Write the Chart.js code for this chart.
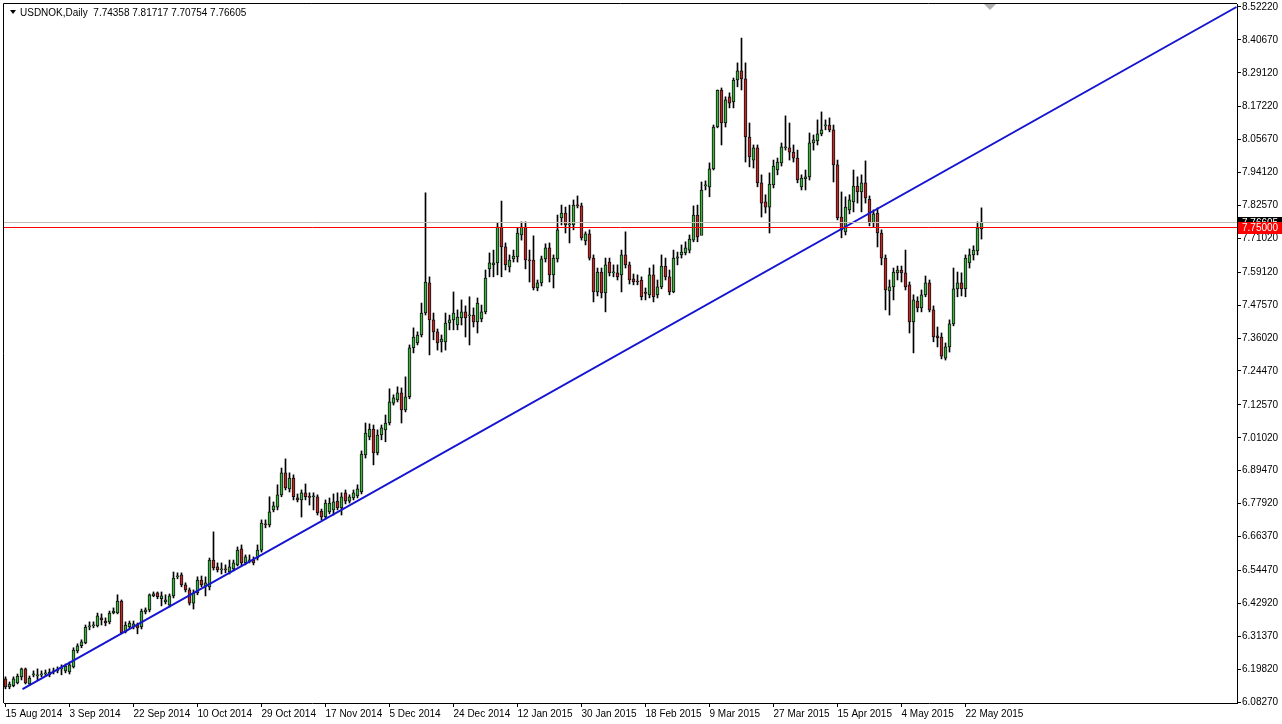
<!DOCTYPE html>
<html>
<head>
<meta charset="utf-8">
<title>USDNOK, Daily</title>
<script src="https://cdn.jsdelivr.net/npm/chart.js@4.4.1/dist/chart.umd.min.js"></script>
<style>
  html, body { margin: 0; padding: 0; background: #fff; }
  #wrap { width: 1282px; height: 724px; }
</style>
</head>
<body>
<div id="wrap"><canvas id="chart" width="1282" height="724"></canvas></div>
<script>
/* USDNOK daily candles, 15 Aug 2014 .. 27 May 2015 (one entry per bar) */

const symbolTitle = 'USDNOK,Daily';

const opens = [
  6.164,6.136,6.140,6.150,6.171,6.199,6.146,6.178,6.174,6.178,6.181,6.178,6.188,6.192,6.199,6.192,
  6.188,6.206,6.262,6.280,6.290,6.346,6.350,6.350,6.378,6.367,6.364,6.395,6.395,6.437,6.329,6.346,
  6.346,6.353,6.346,6.399,6.406,6.455,6.466,6.445,6.434,6.423,6.455,6.522,6.529,6.494,6.476,6.430,
  6.466,6.511,6.490,6.487,6.581,6.557,6.546,6.550,6.539,6.550,6.564,6.620,6.571,6.578,6.581,6.588,
  6.616,6.708,6.704,6.757,6.767,6.810,6.887,6.831,6.869,6.799,6.792,6.817,6.803,6.803,6.803,6.753,
  6.732,6.750,6.757,6.788,6.764,6.817,6.788,6.799,6.806,6.820,6.950,7.013,7.041,6.957,7.020,7.038,
  7.062,7.132,7.143,7.168,7.108,7.154,7.326,7.343,7.371,7.448,7.554,7.424,7.382,7.347,7.347,7.413,
  7.424,7.406,7.431,7.452,7.438,7.441,7.417,7.427,7.452,7.603,7.617,7.624,7.750,7.680,7.610,7.638,
  7.645,7.722,7.750,7.634,7.634,7.536,7.554,7.638,7.677,7.582,7.638,7.782,7.799,7.757,7.757,7.827,
  7.824,7.701,7.726,7.641,7.522,7.592,7.519,7.627,7.589,7.589,7.582,7.652,7.617,7.568,7.560,7.564,
  7.519,7.512,7.582,7.512,7.540,7.613,7.575,7.522,7.641,7.652,7.659,7.669,7.704,7.792,7.720,7.894,
  7.891,7.954,8.101,8.231,8.115,8.207,8.189,8.266,8.298,8.270,8.066,7.985,8.028,7.905,7.838,7.820,
  7.898,7.950,7.975,8.028,8.028,8.013,7.992,7.891,7.919,7.926,8.045,8.052,8.077,8.105,8.108,8.091,
  7.968,7.785,7.733,7.810,7.838,7.894,7.873,7.905,7.848,7.764,7.799,7.729,7.641,7.526,7.540,7.589,
  7.599,7.589,7.547,7.417,7.490,7.466,7.512,7.554,7.459,7.368,7.364,7.290,7.329,7.410,7.533,7.554,
  7.533,7.624,7.652,7.666,7.74358
];

const highs = [
  6.171,6.153,6.171,6.181,6.202,6.202,6.174,6.192,6.199,6.192,6.195,6.199,6.202,6.206,6.213,6.216,
  6.223,6.273,6.287,6.301,6.353,6.364,6.364,6.395,6.392,6.378,6.402,6.413,6.459,6.441,6.364,6.367,
  6.367,6.360,6.409,6.413,6.462,6.469,6.469,6.469,6.459,6.462,6.539,6.536,6.536,6.501,6.483,6.476,
  6.522,6.525,6.522,6.588,6.680,6.571,6.571,6.564,6.581,6.581,6.627,6.634,6.599,6.599,6.592,6.634,
  6.722,6.722,6.803,6.785,6.845,6.904,6.936,6.887,6.880,6.813,6.827,6.848,6.817,6.817,6.810,6.760,
  6.792,6.799,6.813,6.817,6.817,6.827,6.810,6.827,6.845,6.964,7.062,7.059,7.055,7.038,7.055,7.090,
  7.182,7.161,7.189,7.185,7.224,7.336,7.396,7.382,7.483,7.870,7.575,7.448,7.392,7.371,7.448,7.441,
  7.522,7.459,7.494,7.473,7.505,7.466,7.501,7.476,7.599,7.659,7.669,7.764,7.841,7.694,7.652,7.669,
  7.747,7.768,7.768,7.669,7.719,7.564,7.648,7.691,7.694,7.652,7.792,7.827,7.820,7.827,7.845,7.859,
  7.834,7.733,7.740,7.652,7.606,7.606,7.641,7.641,7.617,7.617,7.669,7.733,7.627,7.585,7.582,7.575,
  7.536,7.606,7.617,7.564,7.652,7.641,7.599,7.669,7.662,7.687,7.698,7.722,7.824,7.827,7.908,7.912,
  7.975,8.108,8.231,8.238,8.207,8.221,8.273,8.326,8.413,8.326,8.115,8.038,8.038,7.933,7.863,7.940,
  7.985,7.992,8.045,8.140,8.115,8.038,8.020,7.933,7.950,8.080,8.073,8.126,8.154,8.126,8.133,8.108,
  7.985,7.873,7.856,7.863,7.950,7.926,7.933,7.982,7.859,7.810,7.817,7.740,7.652,7.564,7.606,7.613,
  7.613,7.669,7.557,7.512,7.505,7.529,7.578,7.564,7.473,7.399,7.378,7.343,7.424,7.606,7.592,7.589,
  7.652,7.673,7.684,7.768,7.81717
];

const lows = [
  6.129,6.129,6.136,6.146,6.160,6.146,6.140,6.171,6.160,6.171,6.174,6.171,6.181,6.185,6.178,6.185,
  6.181,6.202,6.255,6.273,6.287,6.336,6.343,6.346,6.353,6.350,6.357,6.392,6.392,6.322,6.325,6.339,
  6.339,6.322,6.339,6.392,6.399,6.452,6.445,6.420,6.427,6.416,6.448,6.515,6.487,6.469,6.423,6.409,
  6.459,6.487,6.455,6.476,6.546,6.539,6.532,6.536,6.532,6.543,6.560,6.560,6.564,6.571,6.564,6.581,
  6.609,6.694,6.697,6.750,6.757,6.803,6.827,6.820,6.792,6.785,6.732,6.792,6.774,6.757,6.739,6.722,
  6.725,6.743,6.739,6.757,6.739,6.778,6.781,6.792,6.799,6.813,6.939,7.003,6.915,6.950,7.003,6.996,
  7.055,7.125,7.136,7.062,7.101,7.147,7.308,7.336,7.364,7.441,7.301,7.354,7.318,7.311,7.318,7.389,
  7.389,7.389,7.406,7.364,7.336,7.399,7.378,7.417,7.445,7.575,7.575,7.582,7.575,7.599,7.592,7.627,
  7.627,7.704,7.603,7.557,7.529,7.526,7.543,7.627,7.557,7.536,7.627,7.757,7.729,7.694,7.740,7.817,
  7.704,7.687,7.634,7.487,7.508,7.501,7.452,7.578,7.575,7.564,7.522,7.606,7.550,7.547,7.547,7.494,
  7.494,7.501,7.487,7.501,7.533,7.564,7.512,7.519,7.617,7.641,7.652,7.659,7.698,7.698,7.740,7.880,
  7.856,7.950,8.098,8.038,8.101,8.168,8.168,8.242,8.231,7.978,7.961,7.957,7.891,7.785,7.799,7.729,
  7.887,7.933,7.964,8.020,7.985,7.978,7.905,7.880,7.880,7.915,8.020,8.038,8.070,8.091,8.084,7.908,
  7.775,7.712,7.722,7.796,7.803,7.834,7.803,7.834,7.754,7.750,7.680,7.617,7.459,7.441,7.494,7.564,
  7.557,7.529,7.378,7.308,7.452,7.452,7.505,7.452,7.347,7.329,7.287,7.283,7.311,7.403,7.505,7.508,
  7.505,7.606,7.634,7.652,7.70754
];

const closes = [
  6.136,6.146,6.164,6.174,6.199,6.150,6.167,6.181,6.178,6.181,6.185,6.188,6.192,6.195,6.202,6.209,
  6.213,6.265,6.280,6.294,6.346,6.350,6.353,6.385,6.371,6.360,6.395,6.402,6.437,6.325,6.353,6.360,
  6.357,6.343,6.402,6.406,6.459,6.462,6.452,6.455,6.441,6.455,6.518,6.525,6.494,6.476,6.430,6.466,
  6.511,6.494,6.501,6.581,6.553,6.546,6.550,6.546,6.557,6.571,6.616,6.571,6.592,6.581,6.571,6.616,
  6.711,6.704,6.750,6.771,6.810,6.887,6.834,6.869,6.803,6.792,6.817,6.803,6.801,6.806,6.746,6.732,
  6.781,6.781,6.785,6.764,6.803,6.788,6.803,6.817,6.831,6.953,7.027,7.041,6.957,7.020,7.045,7.062,
  7.136,7.150,7.168,7.108,7.154,7.326,7.364,7.371,7.448,7.557,7.424,7.382,7.343,7.357,7.413,7.424,
  7.448,7.434,7.452,7.431,7.441,7.417,7.483,7.452,7.571,7.624,7.624,7.750,7.680,7.617,7.634,7.648,
  7.729,7.750,7.634,7.631,7.536,7.554,7.638,7.677,7.582,7.641,7.740,7.799,7.757,7.761,7.827,7.824,
  7.712,7.726,7.641,7.522,7.592,7.519,7.617,7.589,7.592,7.575,7.652,7.617,7.564,7.557,7.557,7.505,
  7.517,7.582,7.505,7.540,7.613,7.575,7.522,7.641,7.645,7.662,7.677,7.708,7.792,7.715,7.880,7.898,
  7.954,8.101,8.231,8.115,8.196,8.185,8.266,8.298,8.270,8.066,7.996,8.028,7.905,7.834,7.820,7.901,
  7.964,7.978,8.031,8.031,8.013,7.992,7.915,7.922,7.926,8.045,8.056,8.077,8.091,8.108,8.091,7.968,
  7.782,7.740,7.820,7.845,7.894,7.873,7.905,7.852,7.764,7.796,7.729,7.641,7.529,7.540,7.592,7.599,
  7.589,7.540,7.417,7.494,7.466,7.512,7.554,7.459,7.364,7.361,7.297,7.329,7.410,7.533,7.554,7.533,
  7.641,7.652,7.669,7.747,7.76605
];

// date labels on the time axis and the bar each one sits on
const dateLabels = ['15 Aug 2014','3 Sep 2014','22 Sep 2014','10 Oct 2014','29 Oct 2014','17 Nov 2014',
  '5 Dec 2014','24 Dec 2014','12 Jan 2015','30 Jan 2015','18 Feb 2015','9 Mar 2015','27 Mar 2015',
  '15 Apr 2015','4 May 2015','22 May 2015'];
const dateBars = [0,16,32,48,64,80,96,112,128,144,160,176,192,208,224,240];

// price scale labels
const priceTicks = [8.5222,8.4067,8.2912,8.1722,8.0567,7.9412,7.8257,7.7102,7.5912,7.4757,7.3602,
  7.2447,7.1257,7.0102,6.8947,6.7792,6.6637,6.5447,6.4292,6.3137,6.1982,6.0827];

// trend line anchors (bar index, price) and horizontal line level
const trendBars = [4.25, 307.75];
const trendPrices = [6.128, 8.5222];
const hLevels = [7.75];

const FONT = "10px 'Liberation Sans', Arial, sans-serif";
const UP = '#3db43d';
const DOWN = '#c02828';

const wickData = highs.map((h, i) => ({ x: i, y: [lows[i], h] }));
const bodyData = opens.map((o, i) => ({ x: i, y: [o, closes[i]] }));
const bodyColors = opens.map((o, i) => closes[i] >= o ? UP : DOWN);
const trendData = trendBars.map((b, i) => ({ x: b, y: trendPrices[i] }));

const mt4Overlay = {
    id: 'mt4Overlay',
    beforeDraw(chart) {
        const ctx = chart.ctx;
        ctx.save();
        ctx.fillStyle = '#ffffff';
        ctx.fillRect(0, 0, chart.width, chart.height);
        ctx.restore();
    },
    afterDatasetsDraw(chart) {
        const ctx = chart.ctx;
        const area = chart.chartArea;
        const y = chart.scales.y;
        const bid = closes[closes.length - 1];

        ctx.save();
        ctx.lineWidth = 1;
        // bid line
        const by = Math.round(y.getPixelForValue(bid)) + 0.5;
        ctx.strokeStyle = '#c4bdb4';
        ctx.beginPath();
        ctx.moveTo(area.left, by);
        ctx.lineTo(area.right, by);
        ctx.stroke();

        // horizontal level lines
        hLevels.forEach(v => {
            const ly = Math.round(y.getPixelForValue(v)) + 0.5;
            ctx.strokeStyle = '#ff0000';
            ctx.beginPath();
            ctx.moveTo(area.left, ly);
            ctx.lineTo(area.right, ly);
            ctx.stroke();
        });
        ctx.restore();
    },
    afterDraw(chart) {
        const ctx = chart.ctx;
        const area = chart.chartArea;
        const y = chart.scales.y;
        const bid = closes[closes.length - 1];

        ctx.save();
        // frame
        ctx.strokeStyle = '#000';
        ctx.lineWidth = 1;
        ctx.beginPath();
        ctx.moveTo(area.left - 0.5, area.bottom);
        ctx.lineTo(area.left - 0.5, area.top - 0.5);
        ctx.lineTo(area.right, area.top - 0.5);
        ctx.stroke();

        // chart shift marker
        ctx.fillStyle = '#b0b0b0';
        ctx.beginPath();
        ctx.moveTo(984, area.top);
        ctx.lineTo(996, area.top);
        ctx.lineTo(990, area.top + 6);
        ctx.closePath();
        ctx.fill();

        // title
        ctx.fillStyle = '#000';
        ctx.beginPath();
        ctx.moveTo(10, 10);
        ctx.lineTo(16, 10);
        ctx.lineTo(13, 14);
        ctx.closePath();
        ctx.fill();
        ctx.font = FONT;
        ctx.textBaseline = 'middle';
        ctx.textAlign = 'left';
        const ohlc = [opens, highs, lows, closes].map(a => a[a.length - 1].toFixed(5)).join(' ');
        ctx.fillText(symbolTitle + '  ' + ohlc, 20, 13);

        // price labels on the scale
        const boxes = [{ v: bid, bg: '#000000' }].concat(hLevels.map(v => ({ v: v, bg: '#ff0000' })));
        boxes.forEach(b => {
            const py = Math.round(y.getPixelForValue(b.v));
            ctx.fillStyle = b.bg;
            ctx.fillRect(area.right + 1, py - 5, 44, 12);
            ctx.fillStyle = '#ffffff';
            ctx.fillText(b.v.toFixed(5), area.right + 5, py + 1);
        });
        ctx.restore();
    }
};

new Chart(document.getElementById('chart'), {
    type: 'bar',
    data: {
        datasets: [
            {
                type: 'line',
                label: 'trend',
                data: trendData,
                borderColor: '#1414d2',
                borderWidth: 2,
                pointRadius: 0,
                fill: false,
                order: 0
            },
            {
                label: 'body',
                data: bodyData,
                backgroundColor: bodyColors,
                borderColor: '#111111',
                borderWidth: 1,
                borderSkipped: false,
                barThickness: 3,
                minBarLength: 1,
                grouped: false,
                order: 1
            },
            {
                label: 'wick',
                data: wickData,
                backgroundColor: '#000000',
                borderWidth: 0,
                barThickness: 1,
                grouped: false,
                order: 2
            }
        ]
    },
    options: {
        responsive: false,
        animation: false,
        devicePixelRatio: 1,
        layout: { padding: { left: 4, top: 4, right: 0, bottom: 0 } },
        plugins: {
            legend: { display: false },
            tooltip: { enabled: false }
        },
        scales: {
            x: {
                type: 'linear',
                min: -0.375,
                max: 307.875,
                offset: false,
                afterBuildTicks: scale => { scale.ticks = dateBars.map(v => ({ value: v })); },
                afterFit: scale => { scale.height = 21; scale.paddingLeft = 0; scale.paddingRight = 0; },
                grid: { drawOnChartArea: false, offset: false, tickLength: 4, color: '#000' },
                border: { display: true, color: '#000' },
                ticks: {
                    autoSkip: false,
                    maxRotation: 0,
                    align: 'start',
                    padding: 1,
                    color: '#000',
                    font: { family: "'Liberation Sans', Arial, sans-serif", size: 10 },
                    callback: (v, i) => dateLabels[i]
                }
            },
            y: {
                type: 'linear',
                position: 'right',
                min: 6.07919,
                max: 8.53273,
                afterBuildTicks: scale => { scale.ticks = priceTicks.map(v => ({ value: v })); },
                afterFit: scale => { scale.width = 45; scale.paddingTop = 0; scale.paddingBottom = 0; },
                grid: { drawOnChartArea: false, tickLength: 4, color: '#000' },
                border: { display: true, color: '#000' },
                ticks: {
                    padding: 1,
                    color: '#000',
                    font: { family: "'Liberation Sans', Arial, sans-serif", size: 10 },
                    callback: v => v.toFixed(5)
                }
            }
        }
    },
    plugins: [mt4Overlay]
});
</script>
</body>
</html>
